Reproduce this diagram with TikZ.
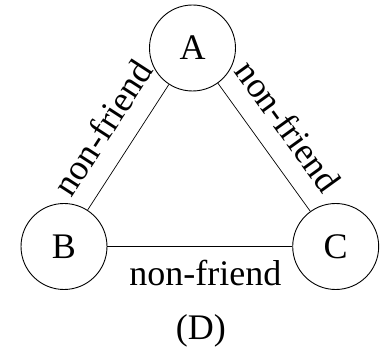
\documentclass[tikz,border=0pt]{standalone}
\usepackage{fontspec}
\setmainfont{Liberation Serif}
\begin{document}
\begin{tikzpicture}[x=1pt,y=-1pt,
  person/.style={draw, circle, line width=0.9pt, minimum size=86pt, inner sep=0pt, font=\fontsize{36}{40}\selectfont},
  edge/.style={line width=0.7pt},
  lbl/.style={inner sep=0pt, font=\fontsize{36}{40}\selectfont}]
\useasboundingbox (0,0) rectangle (381,350);
\node[person] (A) at (192.5,48) {A};
\node[person] (B) at (64,246.5) {B};
\node[person] (C) at (335.7,246.5) {C};
\draw[edge] (B) -- node[lbl, sloped, pos=0.516, above=19pt] {non-friend} (A);
\draw[edge] (A) -- node[lbl, sloped, pos=0.48, above=19pt] {non-friend} (C);
\draw[edge] (B) -- node[lbl, pos=0.53, below=13.4pt] {non-friend} (C);
\node[lbl] (D) at (200.8,331) {(D)};
\end{tikzpicture}
\end{document}
